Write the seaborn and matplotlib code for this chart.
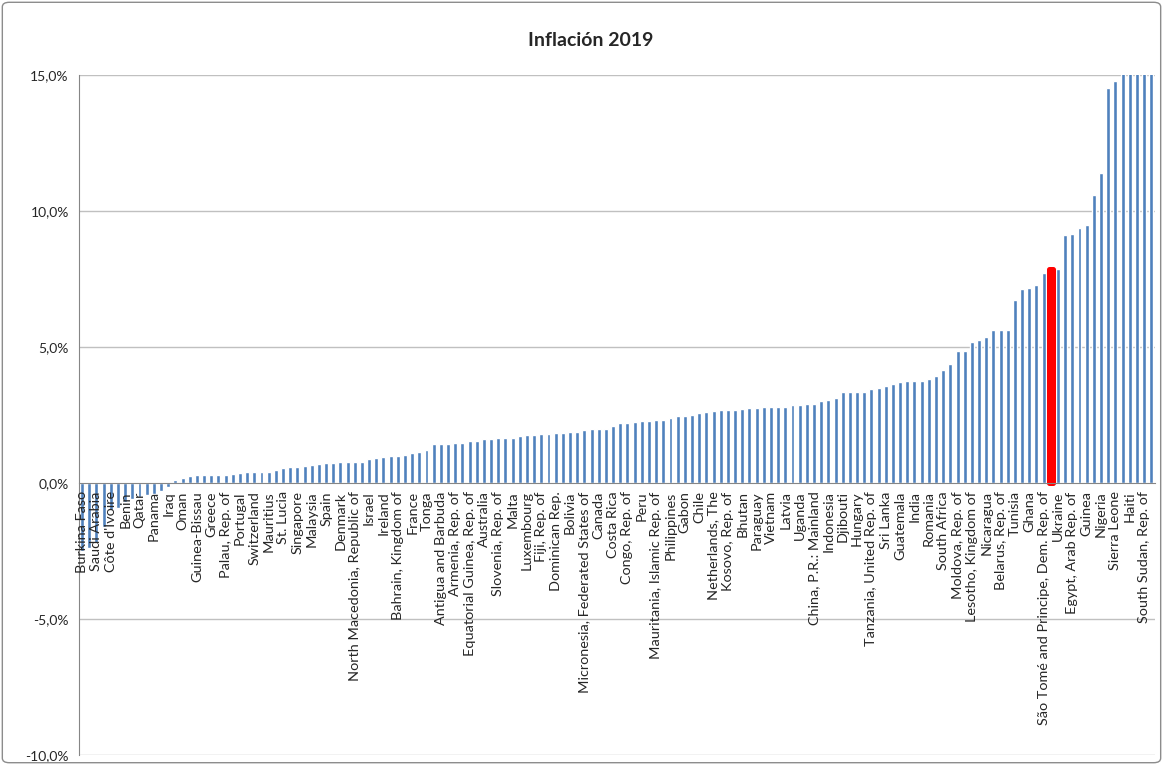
import matplotlib
matplotlib.use('Agg')
import matplotlib.pyplot as plt
from matplotlib.patches import FancyBboxPatch
from matplotlib.ticker import FuncFormatter
import pandas as pd
import seaborn as sns

# etiquetas visibles (una de cada dos barras, como en Excel)
paises_visibles = [
    'Burkina Faso', 'Saudi Arabia', "Côte d'Ivoire", 'Benin', 'Qatar', 'Panama', 'Iraq', 'Oman',
    'Guinea-Bissau', 'Greece', 'Palau, Rep. of', 'Portugal', 'Switzerland', 'Mauritius', 'St. Lucia',
    'Singapore', 'Malaysia', 'Spain', 'Denmark', 'North Macedonia, Republic of', 'Israel', 'Ireland',
    'Bahrain, Kingdom of', 'France', 'Tonga', 'Antigua and Barbuda', 'Armenia, Rep. of',
    'Equatorial Guinea, Rep. of', 'Australia', 'Slovenia, Rep. of', 'Malta', 'Luxembourg',
    'Fiji, Rep. of', 'Dominican Rep.', 'Bolivia', 'Micronesia, Federated States of', 'Canada',
    'Costa Rica', 'Congo, Rep. of', 'Peru', 'Mauritania, Islamic Rep. of', 'Philippines', 'Gabon',
    'Chile', 'Netherlands, The', 'Kosovo, Rep. of', 'Bhutan', 'Paraguay', 'Vietnam', 'Latvia',
    'Uganda', 'China, P.R.: Mainland', 'Indonesia', 'Djibouti', 'Hungary', 'Tanzania, United Rep. of',
    'Sri Lanka', 'Guatemala', 'India', 'Romania', 'South Africa', 'Moldova, Rep. of',
    'Lesotho, Kingdom of', 'Nicaragua', 'Belarus, Rep. of', 'Tunisia', 'Ghana',
    'São Tomé and Principe, Dem. Rep. of', 'Ukraine', 'Egypt, Arab Rep. of', 'Guinea', 'Nigeria',
    'Sierra Leone', 'Haiti', 'South Sudan, Rep. of',
]

# inflación 2019 (%), ordenada de menor a mayor
inflacion = [
    -2.5, -2.4, -2.2, -1.6, -1.0, -0.9, -0.7, -0.6, -0.5, -0.45, -0.4, -0.3, -0.15,
    0.10, 0.17, 0.25, 0.28, 0.28, 0.28, 0.28, 0.28, 0.33, 0.36, 0.39, 0.39, 0.39, 0.42,
    0.48, 0.55, 0.59, 0.59, 0.64, 0.68, 0.71, 0.72, 0.72, 0.79, 0.79, 0.79, 0.79, 0.87,
    0.92, 0.95, 1.01, 1.01, 1.04, 1.12, 1.15, 1.20, 1.43, 1.45, 1.45, 1.46, 1.46,
    1.55, 1.55, 1.62, 1.62, 1.66, 1.66, 1.66, 1.74, 1.78, 1.78, 1.79, 1.79, 1.83, 1.83,
    1.86, 1.86, 1.94, 1.97, 1.97, 1.97, 2.11, 2.19, 2.22, 2.25, 2.27, 2.27, 2.31, 2.33,
    2.38, 2.47, 2.47, 2.49, 2.56, 2.62, 2.64, 2.68, 2.70, 2.70, 2.73, 2.75, 2.75, 2.78,
    2.81, 2.81, 2.81, 2.86, 2.86, 2.90, 2.90, 3.01, 3.05, 3.12, 3.33, 3.33, 3.34, 3.34,
    3.45, 3.51, 3.55, 3.64, 3.71, 3.75, 3.75, 3.75, 3.82, 3.92, 4.14, 4.37, 4.84, 4.87,
    5.18, 5.24, 5.38, 5.61, 5.61, 5.61, 6.74, 7.13, 7.16, 7.29, 7.72, 7.85, 7.88, 9.13,
    9.17, 9.36, 9.48, 10.57, 11.38, 14.51, 14.77, 15.8, 18.7, 27.0, 87.2, 255.3,
]

destacado = 135  # Uruguay

df = pd.DataFrame({'pos': range(len(inflacion)), 'inflacion': inflacion})
df['grupo'] = ['destacado' if i == destacado else 'resto' for i in df['pos']]

sns.set_style('white')
plt.rcParams['font.family'] = ['Lato', 'DejaVu Sans']

fig = plt.figure(figsize=(11.63, 7.65), dpi=100)
ax = fig.add_axes([0.0675, 0.013, 0.9255, 0.889])

sns.barplot(data=df, x='pos', y='inflacion', hue='grupo',
            palette={'resto': '#4F81BD', 'destacado': '#FF0000'},
            width=0.55, dodge=False, saturation=1, legend=False, ax=ax)

for p in ax.patches:
    if p.get_facecolor()[0] > 0.9 and p.get_facecolor()[2] < 0.1:
        p.set_edgecolor('#FF0000')
        p.set_linewidth(3.6)
        p.set_joinstyle('round')

# el eje x cruza en 0 (antes de configurar ticks: set_position los reinicia)
for s in ['top', 'right']:
    ax.spines[s].set_visible(False)
ax.spines['left'].set_color('#868686')
ax.spines['bottom'].set_color('#868686')
ax.spines['bottom'].set_position(('data', 0))
ax.set_axisbelow(False)

ax.set_ylim(-10, 15)
ax.set_yticks([-10, -5, 0, 5, 10, 15])
ax.yaxis.set_major_formatter(FuncFormatter(lambda v, _: f'{v:.1f}%'.replace('.', ',')))
for v in [-10, -5, 5, 10, 15]:
    ax.axhline(v, color='#C0C0C0', lw=1, zorder=0)

ax.set_xticks(range(0, len(inflacion), 2))
ax.set_xticklabels(paises_visibles, rotation=90, fontsize=10.4, va='top', ha='center')
ax.set_xticks([i - 0.5 for i in range(len(inflacion) + 1)], minor=True)
ax.tick_params(axis='x', which='major', length=0, pad=6)
ax.tick_params(axis='x', which='minor', length=4, color='#868686', width=0.8)
ax.tick_params(axis='y', length=4, color='#868686', labelsize=10, pad=3)
ax.set_xlim(-0.5, len(inflacion) - 0.5)
ax.set_xlabel('')
ax.set_ylabel('')

fig.text(0.508, 0.947, 'Inflación 2019', ha='center', va='center',
         fontsize=14, fontweight='bold')

fig.patches.append(FancyBboxPatch((0.002, 0.003), 0.996, 0.994,
                                  boxstyle='round,pad=0,rounding_size=0.006',
                                  transform=fig.transFigure, fill=False,
                                  edgecolor='#8C8C8C', lw=1))

fig.savefig('out.png', dpi=100)
